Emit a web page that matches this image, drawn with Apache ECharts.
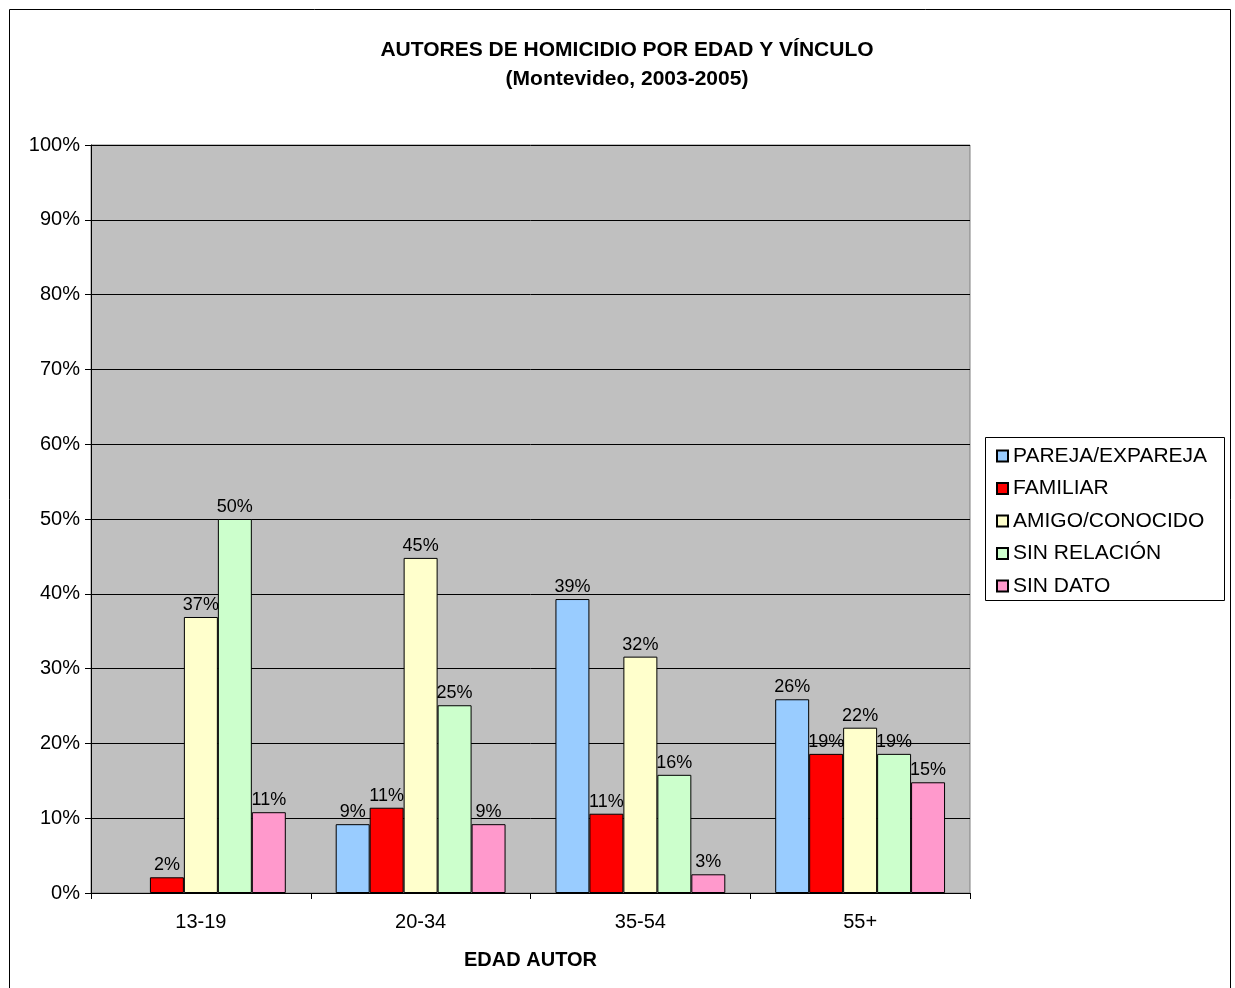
<!DOCTYPE html>
<html><head><meta charset="utf-8">
<script src="https://cdn.jsdelivr.net/npm/echarts@6/dist/echarts.min.js"></script>
<style>html,body{margin:0;padding:0;background:#fff}#c{width:1235px;height:988px}</style>
</head><body><div id="c"></div>
<script>
const categories = ['13-19', '20-34', '35-54', '55+'];
const seriesNames = ['PAREJA/EXPAREJA', 'FAMILIAR', 'AMIGO/CONOCIDO', 'SIN RELACIÓN', 'SIN DATO'];
const pareja = [null, 9.2, 39.3, 25.9];
const familiar = [2.1, 11.4, 10.6, 18.6];
const amigo = [36.9, 44.8, 31.6, 22.1];
const sinRelacion = [50.0, 25.1, 15.8, 18.6];
const sinDato = [10.8, 9.2, 2.5, 14.8];
const yTicks = [0, 10, 20, 30, 40, 50, 60, 70, 80, 90, 100];
const colors = ['#99CCFF', '#FF0000', '#FFFFCC', '#CCFFCC', '#FF99CC'];
const allData = [pareja, familiar, amigo, sinRelacion, sinDato];
const FONT = '"Liberation Sans", Arial, sans-serif';

const chart = echarts.init(document.getElementById('c'));
chart.setOption({
  animation: false,
  backgroundColor: '#fff',
  title: {
    text: 'AUTORES DE HOMICIDIO POR EDAD Y VÍNCULO\n(Montevideo, 2003-2005)',
    left: 622, top: 31, textAlign: 'center',
    textStyle: { fontFamily: FONT, fontSize: 21, fontWeight: 'bold', color: '#000', lineHeight: 29 }
  },
  graphic: [
    { type: 'rect', shape: { x: 9.5, y: 9.5, width: 1221, height: 990 }, style: { fill: 'none', stroke: '#000', lineWidth: 1 }, silent: true },
    { type: 'rect', shape: { x: 985.5, y: 437.5, width: 239, height: 163 }, style: { fill: '#fff', stroke: '#000', lineWidth: 1 }, z: 0, silent: true }
  ],
  legend: {
    orient: 'vertical', left: 991, top: 440,
    itemWidth: 11, itemHeight: 11, itemGap: 10.5,
    icon: 'rect',
    data: seriesNames,
    textStyle: { fontFamily: FONT, fontSize: 21, lineHeight: 22, color: '#000', padding: [0, 0, 0, 0] },
    z: 5
  },
  grid: { left: 91, right: 265, top: 145, bottom: 95, show: true, backgroundColor: '#C0C0C0', borderColor: '#808080', borderWidth: 1 },
  xAxis: {
    type: 'category', data: categories,
    name: 'EDAD AUTOR', nameLocation: 'middle', nameGap: 57,
    nameTextStyle: { fontFamily: FONT, fontSize: 20, fontWeight: 'bold', color: '#000' },
    axisLine: { lineStyle: { color: '#000', width: 1 } },
    axisTick: { show: true, length: 6, lineStyle: { color: '#000' } },
    axisLabel: { fontFamily: FONT, fontSize: 20, color: '#000', margin: 19 }
  },
  yAxis: {
    type: 'value', min: 0, max: 100, interval: 10,
    axisLine: { show: true, lineStyle: { color: '#000', width: 1 } },
    axisTick: { show: true, length: 6, lineStyle: { color: '#000' } },
    axisLabel: {
      fontFamily: FONT, fontSize: 20, color: '#000', margin: 11,
      formatter: v => (yTicks.indexOf(v) >= 0 ? v + '%' : '')
    },
    splitLine: { show: true, lineStyle: { color: '#000', width: 1 } }
  },
  series: seriesNames.map((name, i) => ({
    name, type: 'bar', data: allData[i],
    barGap: '0%', barCategoryGap: '22.7%',
    itemStyle: { color: colors[i], borderColor: '#000', borderWidth: 1 },
    label: {
      show: true, position: 'top', distance: 3,
      fontFamily: FONT, fontSize: 18, color: '#000',
      formatter: p => (p.value > 0 ? Math.round(p.value) + '%' : '')
    }
  }))
});
</script></body></html>
